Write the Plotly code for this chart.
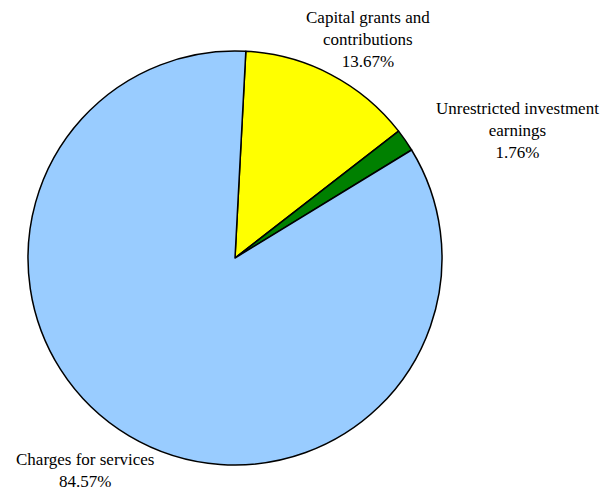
import plotly.graph_objects as go

categories = ["Capital grants and contributions", "Unrestricted investment earnings", "Charges for services"]
values = [13.67, 1.76, 84.57]
colors = ["#FFFF00", "#008000", "#99CCFF"]
label_lines = ["Capital grants and<br>contributions", "Unrestricted investment<br>earnings", "Charges for services"]
label_x = [368, 517, 85]
label_y = [40, 131, 470]

# the page body has an 8px default margin; work in page pixels and shift
OFF = 8
W, H = 609 - OFF, 491 - OFF
cx, cy, r = 235 - OFF, 258 - OFF, 207

fig = go.Figure(go.Pie(
    labels=categories,
    values=values,
    marker=dict(colors=colors, line=dict(color="black", width=1.5)),
    sort=False,
    direction="clockwise",
    rotation=3,
    textinfo="none",
    hoverinfo="label+percent",
    showlegend=False,
    domain=dict(x=[(cx - r) / W, (cx + r) / W], y=[(H - cy - r) / H, (H - cy + r) / H]),
))

for txt, v, x, y in zip(label_lines, values, label_x, label_y):
    fig.add_annotation(
        x=(x - OFF) / W, y=1 - (y - OFF) / H, xref="paper", yref="paper",
        text=f"{txt}<br>{v:.2f}%", showarrow=False,
        font=dict(family="Times New Roman, Liberation Serif, serif", size=17, color="black"),
        align="center", xanchor="center", yanchor="middle",
    )

fig.update_layout(
    width=W, height=H,
    margin=dict(l=0, r=0, t=0, b=0),
    font=dict(family="Times New Roman, Liberation Serif, serif"),
    paper_bgcolor="white", plot_bgcolor="white",
)
fig.write_html("out.html")
